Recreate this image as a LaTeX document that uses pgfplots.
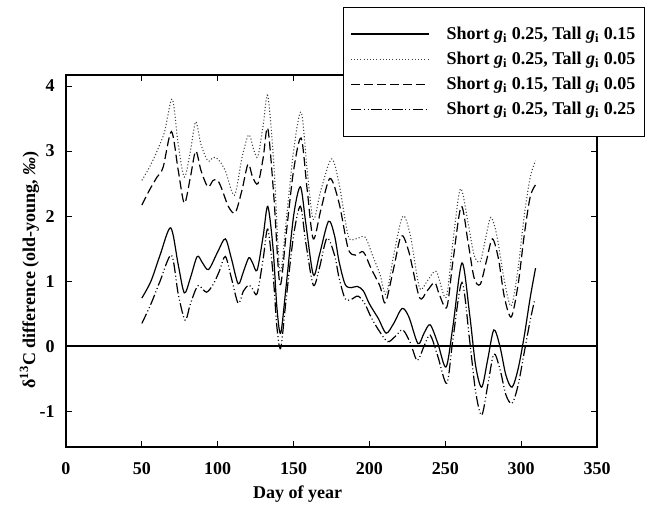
\documentclass[border=0pt]{standalone}
\usepackage{pgfplots}
\pgfplotsset{compat=1.18}
\usepackage{fontspec}
\setmainfont{Liberation Serif}
\newcommand{\gi}{\textit{g}\textsubscript{i}}
\begin{document}
\begin{tikzpicture}[font=\fontsize{13.5}{16}\selectfont\bfseries]
\useasboundingbox (-49.5pt,-47.25pt) rectangle (434.25pt,335.25pt);
\begin{axis}[
  width=398.25pt, height=279pt, scale only axis,
  at={(0,0)}, anchor=south west,
  xmin=0, xmax=350, ymin=-1.55, ymax=4.17,
  xtick={0,50,...,350}, ytick={-1,0,...,4},
  tick align=inside, xtick pos=both, ytick pos=both,
  major tick length=4.5pt,
  axis line style={line width=0.9pt},
  every tick/.style={line width=0.8pt, black},
  /pgf/number format/assume math mode=true,
  ticklabel style={font=\fontsize{13.5}{16}\selectfont\bfseries},
  yticklabel style={xshift=-5pt},
  xticklabel style={yshift=-8pt},
  xlabel={Day of year},
  xlabel style={at={(axis description cs:0.436,-0.127)}, anchor=center},
  ylabel={δ\textsuperscript{13}C difference (old-young, \textit{‰})},
  ylabel style={at={(axis description cs:-0.0688,0.476)}, anchor=center},
  legend cell align=left,
  legend style={at={(0.5217,1.183)}, anchor=north west, draw=black, fill=white,
    line width=0.7pt, inner xsep=5pt, inner ysep=12.5pt, row sep=4pt, column sep=11pt,
    font=\fontsize{13.5}{16}\selectfont\bfseries},
  legend image code/.code={\draw[#1] (0pt,0pt) -- (58.5pt,0pt);},
  every axis plot/.append style={line width=0.9pt, black, smooth},
]
\addplot[forget plot, line width=1.1pt, sharp plot] coordinates {(0,0) (350,0)};
% Short 0.25, Tall 0.15
\addplot[solid] coordinates {
(50,0.74) (56,1.0) (62,1.4) (69,1.82) (74,1.25) (78,0.82) (82,1.05) (86.5,1.38) (90,1.28) (94,1.18)
(100,1.45) (105,1.65) (109,1.35) (113.5,0.96) (117,1.15) (120.5,1.36) (123,1.28) (126,1.17) (130,1.7)
(133,2.15) (136.5,1.5) (139,0.6) (141.5,0.2) (145,0.9) (150,2.0) (154.5,2.45) (158,1.9) (163,1.1)
(167,1.4) (173,1.92) (177,1.7) (180,1.3) (184,0.95) (188,0.9) (192,0.92) (196,0.85) (200,0.65)
(206,0.42) (211,0.2) (216,0.35) (221.5,0.58) (226,0.45) (232,0.04) (236,0.2) (240,0.33) (245,0.05)
(250.5,-0.32) (255,0.3) (261,1.28) (266,0.5) (270,-0.3) (274,-0.63) (278,-0.2) (282,0.25) (286,0.0)
(290,-0.45) (294,-0.63) (298,-0.35) (302,0.15) (306,0.75) (309.5,1.2)};
\addlegendentry{Short \gi{} 0.25, Tall \gi{} 0.15}
% Short 0.25, Tall 0.05
\addplot[line width=0.8pt, dash pattern=on 0.8pt off 1.6pt, black!75] coordinates {
(50,2.55) (55,2.75) (60,3.0) (65,3.3) (70,3.8) (74,3.1) (78,2.6) (82,3.0) (85.5,3.45) (89,3.1)
(93.5,2.85) (97,2.9) (100,2.88) (105,2.7) (111,2.32) (116,2.9) (120.5,3.25) (124,3.0) (126.5,2.92)
(130,3.4) (133,3.85) (137,2.8) (141,1.15) (145,1.9) (150,3.0) (155,3.6) (159,2.7) (163,1.95)
(168,2.4) (175,2.88) (180,2.5) (186,1.7) (191,1.65) (197,1.68) (202,1.4) (207,1.1) (211,0.8)
(216,1.4) (222,2.0) (227,1.7) (233,0.9) (238,1.0) (244,1.15) (250.5,0.75) (255,1.6) (260,2.42)
(265,1.9) (269,1.4) (273,1.3) (276.5,1.65) (280,1.98) (284,1.7) (289,1.0) (293.5,0.62) (298,1.2)
(302,2.0) (306,2.6) (309.5,2.85)};
\addlegendentry{Short \gi{} 0.25, Tall \gi{} 0.05}
% Short 0.15, Tall 0.05
\addplot[dash pattern=on 6.75pt off 3pt] coordinates {
(50,2.17) (55,2.4) (60,2.6) (64,2.75) (69.5,3.3) (74,2.7) (78,2.2) (82,2.6) (85.5,3.0) (89,2.7)
(93.5,2.45) (97,2.55) (100,2.55) (103,2.4) (107,2.15) (111.5,2.05) (116,2.4) (120,2.8) (123,2.6)
(126.5,2.5) (130,2.9) (133,3.35) (137,2.3) (141,0.95) (145,1.7) (150,2.7) (155,3.2) (159,2.4)
(163,1.65) (168,2.1) (174,2.58) (180,2.2) (186,1.5) (191,1.4) (196,1.45) (201,1.2) (207,0.92)
(210.5,0.67) (216,1.2) (221,1.7) (226,1.45) (233,0.75) (238,0.85) (243,0.98) (246,0.8) (251,0.6)
(255,1.3) (260.5,2.15) (265,1.6) (269,1.05) (273,0.95) (277,1.3) (281,1.65) (285,1.35) (289,0.75)
(293.5,0.45) (298,0.95) (302,1.7) (306,2.3) (310,2.5)};
\addlegendentry{Short \gi{} 0.15, Tall \gi{} 0.05}
% Short 0.25, Tall 0.25
\addplot[dash pattern=on 8pt off 2pt on 0.75pt off 2pt on 0.75pt off 2pt] coordinates {
(50,0.35) (56,0.65) (62,1.0) (69.5,1.4) (74,0.8) (78.5,0.4) (82,0.65) (87,0.93) (92.5,0.83) (97,0.95)
(101,1.15) (105,1.38) (109,1.05) (113.5,0.66) (117,0.85) (120.5,0.94) (123,0.88) (126,0.81) (130,1.35)
(133,1.8) (136.5,1.1) (139,0.3) (141.5,-0.03) (145,0.7) (150,1.7) (154.5,2.15) (158,1.6) (163,0.94)
(167,1.2) (172,1.66) (177,1.4) (180,1.05) (184,0.73) (188,0.72) (192.5,0.77) (197,0.65) (201,0.45)
(206,0.25) (212,0.07) (217,0.15) (222,0.25) (227,0.05) (231.5,-0.22) (236,0.0) (240,0.17) (245,-0.15)
(251,-0.57) (255,0.1) (261,0.98) (266,0.1) (270,-0.7) (274,-1.06) (278,-0.6) (282,-0.12) (286,-0.35)
(290,-0.75) (294,-0.88) (298,-0.6) (302,-0.1) (306,0.4) (309,0.72)};
\addlegendentry{Short \gi{} 0.25, Tall \gi{} 0.25}
\end{axis}
\end{tikzpicture}
\end{document}
